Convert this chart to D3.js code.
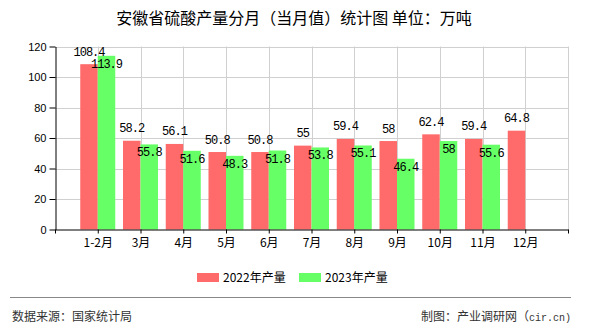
<!DOCTYPE html>
<html>
<head>
<meta charset="utf-8">
<script src="https://cdn.jsdelivr.net/npm/d3@7/dist/d3.min.js"></script>
<style>
  html, body { margin: 0; padding: 0; background: #fff; }
  svg { display: block; }
  text { font-family: "Liberation Sans", "Noto Sans CJK SC", sans-serif; }
</style>
</head>
<body>
<svg id="chart" width="590" height="330"></svg>
<script>
// Monthly sulfuric acid output in Anhui (10k tonnes)
const months = ["1-2月", "3月", "4月", "5月", "6月", "7月", "8月", "9月", "10月", "11月", "12月"];
const output2022 = [108.4, 58.2, 56.1, 50.8, 50.8, 55, 59.4, 58, 62.4, 59.4, 64.8];
const output2023 = [113.9, 55.8, 51.6, 48.3, 51.8, 53.8, 55.1, 46.4, 58, 55.6, null];
const seriesNames = ["2022年产量", "2023年产量"];
const seriesColors = ["#ff6a6a", "#66ff66"];
const yTicks = [0, 20, 40, 60, 80, 100, 120];

const svg = d3.select("#chart");
const plotLeft = 55, plotRight = 568, plotTop = 46.5, plotBottom = 229.5;

// point scale with an empty slot on each side of the months
const slots = ["_start", ...months, "_end"];
const x = d3.scalePoint().domain(slots).range([plotLeft, plotRight]);
const inner = d3.scaleBand().domain(seriesNames).range([-17.5, 17.5]);
const y = d3.scaleLinear().domain([0, 120]).range([plotBottom, plotTop]);

const cjk = '"Noto Sans CJK SC", "Liberation Sans", sans-serif';
const mono = '"Liberation Mono", "DejaVu Sans Mono", monospace';

// title
svg.append("text")
  .attr("x", 294).attr("y", 24)
  .attr("text-anchor", "middle")
  .style("font-family", cjk)
  .style("font-size", "16px")
  .attr("fill", "#000")
  .text("安徽省硫酸产量分月（当月值）统计图 单位：万吨");

// grid
const grid = svg.append("g").attr("stroke", "#d0d0d0").attr("stroke-width", 1);
yTicks.filter(t => t > 0).forEach(t => {
  grid.append("line").attr("x1", plotLeft).attr("x2", plotRight)
    .attr("y1", Math.round(y(t)) + 0.5).attr("y2", Math.round(y(t)) + 0.5);
});
slots.slice(1).forEach(s => {
  const xx = Math.round(x(s)) + 0.5;
  grid.append("line").attr("x1", xx).attr("x2", xx).attr("y1", y(120)).attr("y2", plotBottom);
});

// bars
const series = [output2022, output2023];
series.forEach((vals, si) => {
  svg.append("g").selectAll("rect")
    .data(months.map((m, i) => ({ m, v: vals[i] })).filter(d => d.v != null))
    .join("rect")
    .attr("x", d => x(d.m) + inner(seriesNames[si]))
    .attr("width", inner.bandwidth())
    .attr("y", d => y(d.v))
    .attr("height", d => plotBottom - y(d.v))
    .attr("fill", seriesColors[si]);
});

// value labels: 2022 above bar top, 2023 just inside bar top
series.forEach((vals, si) => {
  svg.append("g").selectAll("text")
    .data(months.map((m, i) => ({ m, v: vals[i] })).filter(d => d.v != null))
    .join("text")
    .attr("x", d => x(d.m) + inner(seriesNames[si]) + inner.bandwidth() / 2)
    .attr("y", d => si === 0 ? y(d.v) - 8.5 : y(d.v) + 12)
    .attr("text-anchor", "middle")
    .style("font-family", mono)
    .style("font-size", "12px")
    .style("letter-spacing", "-1px")
    .attr("fill", "#000")
    .text(d => d.v);
});

// y axis
const yAxis = svg.append("g")
  .attr("transform", `translate(${plotLeft + 0.5},0)`)
  .call(d3.axisLeft(y).tickValues(yTicks).tickSize(6).tickPadding(3).tickSizeOuter(0));
yAxis.select(".domain").attr("stroke", "#000");
yAxis.selectAll("text").style("font-family", '"Liberation Sans", sans-serif').style("font-size", "11px").attr("fill", "#000");

// x axis
const xAxis = svg.append("g")
  .attr("transform", `translate(0,${plotBottom})`)
  .call(d3.axisBottom(x).tickSize(4).tickPadding(5).tickSizeOuter(0)
    .tickFormat(d => d.startsWith("_") ? "" : d));
xAxis.select(".domain").attr("stroke", "#000");
xAxis.selectAll("text").style("font-family", cjk).style("font-size", "12px").attr("fill", "#000");

// legend
const legend = svg.append("g");
const legendX = [197, 299];
seriesNames.forEach((name, i) => {
  legend.append("rect").attr("x", legendX[i]).attr("y", 273).attr("width", 22).attr("height", 9)
    .attr("fill", seriesColors[i]);
  legend.append("text").attr("x", legendX[i] + 26).attr("y", 282)
    .style("font-family", cjk).style("font-size", "12px").attr("fill", "#000")
    .text(name);
});

// footer
svg.append("line").attr("x1", 10).attr("x2", 571).attr("y1", 297.5).attr("y2", 297.5)
  .attr("stroke", "#888").attr("stroke-width", 1.2);
svg.append("text").attr("x", 12).attr("y", 321)
  .style("font-family", cjk).style("font-size", "12px").attr("fill", "#333")
  .text("数据来源：国家统计局");
const credit = svg.append("text").attr("x", 571).attr("y", 321).attr("text-anchor", "end")
  .style("font-family", cjk).style("font-size", "12px").attr("fill", "#333");
credit.append("tspan").text("制图：产业调研网（");
credit.append("tspan").style("font-family", mono).style("font-size", "10px").text("cir.cn)");
</script>
</body>
</html>
